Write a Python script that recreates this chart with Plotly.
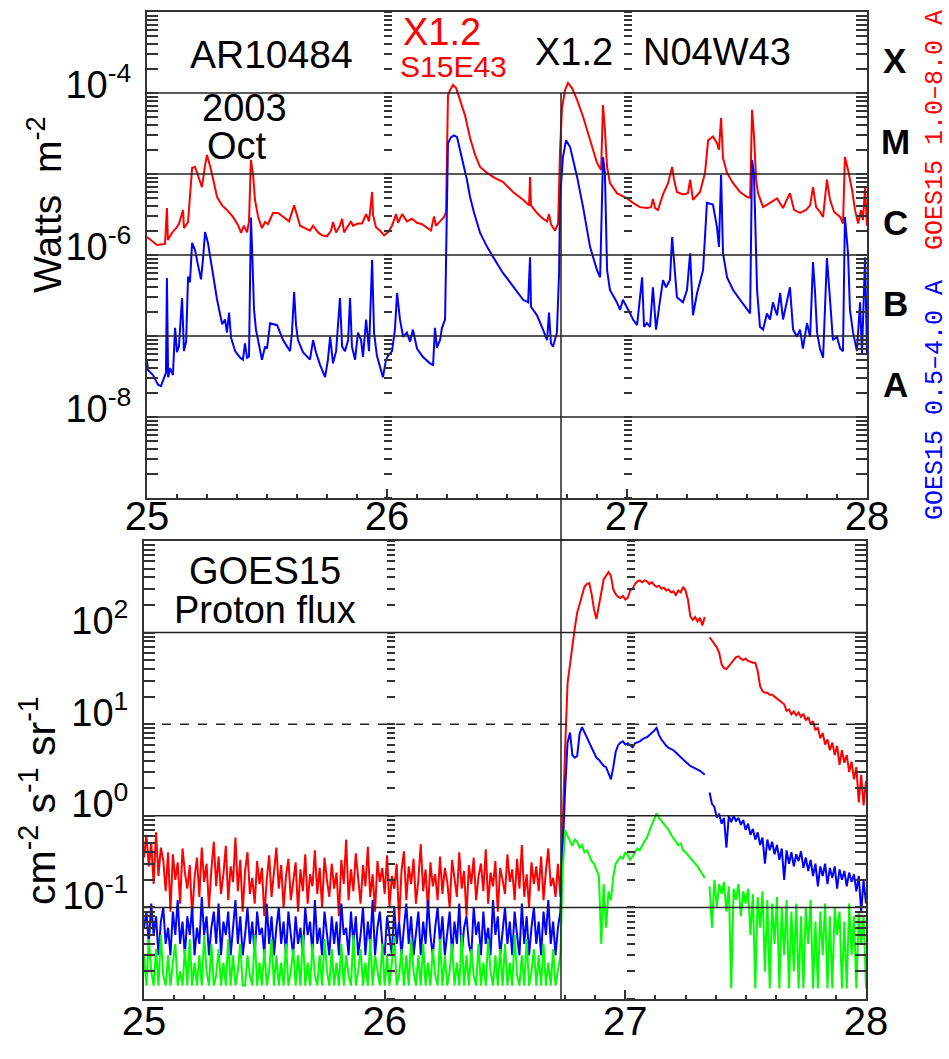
import numpy as np
import plotly.graph_objects as go

# ---------------- GOES X-ray flux (top panel) ----------------
# time in days of October 2003, flux in W m^-2
XR_T = [25.000, 25.042, 25.075, 25.083, 25.087, 25.104, 25.121, 25.133, 25.150, 25.154,
        25.171, 25.179, 25.188, 25.200, 25.212, 25.229, 25.242, 25.250, 25.267, 25.292,
        25.313, 25.333, 25.358, 25.379, 25.392, 25.404, 25.417, 25.425, 25.433, 25.442,
        25.450, 25.463, 25.479, 25.492, 25.504, 25.525, 25.546, 25.567, 25.592, 25.613,
        25.625, 25.638, 25.658, 25.679, 25.692, 25.713, 25.729, 25.750, 25.767, 25.775,
        25.788, 25.804, 25.813, 25.821, 25.838, 25.850, 25.858, 25.879, 25.896, 25.913,
        25.925, 25.938, 25.942, 25.954, 25.971, 25.988, 26.004, 26.021, 26.038, 26.046,
        26.063, 26.083, 26.104, 26.125, 26.146, 26.171, 26.183, 26.196, 26.204, 26.221,
        26.238, 26.246, 26.250, 26.254, 26.263, 26.275, 26.288, 26.304, 26.325, 26.346,
        26.367, 26.388, 26.417, 26.450, 26.483, 26.525, 26.554, 26.567, 26.592, 26.596,
        26.600, 26.625, 26.650, 26.667, 26.675, 26.683, 26.700, 26.713, 26.721, 26.729,
        26.742, 26.754, 26.771, 26.792, 26.817, 26.846, 26.875, 26.892, 26.900, 26.908,
        26.917, 26.929, 26.958, 26.983, 27.000, 27.025, 27.054, 27.083, 27.100, 27.108,
        27.117, 27.129, 27.150, 27.171, 27.188, 27.196, 27.208, 27.233, 27.254, 27.263,
        27.275, 27.304, 27.325, 27.338, 27.358, 27.375, 27.383, 27.392, 27.400, 27.417,
        27.442, 27.471, 27.500, 27.513, 27.521, 27.529, 27.538, 27.546, 27.567, 27.596,
        27.625, 27.650, 27.679, 27.696, 27.721, 27.746, 27.763, 27.775, 27.788, 27.804,
        27.817, 27.833, 27.846, 27.863, 27.888, 27.900, 27.908, 27.921, 27.938, 27.950,
        27.963, 27.975, 27.983, 27.992, 28.000]
XR_V = [1.67e-6, 1.33e-6, 1.37e-6, 3.8e-6, 1.53e-6, 1.87e-6, 2.15e-6, 2.41e-6, 3.6e-6, 2.15e-6,
        2.55e-6, 4.8e-6, 1.19e-5, 1.22e-5, 9.7e-6, 6.9e-6, 1.29e-5, 1.72e-5, 1.12e-5, 5.2e-6,
        4.1e-6, 3.6e-6, 2.95e-6, 2.35e-6, 1.87e-6, 2.3e-6, 1.9e-6, 2.6e-6, 1.49e-5, 9.7e-6,
        4.8e-6, 2.95e-6, 2.15e-6, 2.55e-6, 2.4e-6, 3.3e-6, 3.3e-6, 2.95e-6, 2.6e-6, 4.1e-6,
        3.1e-6, 2.3e-6, 2.15e-6, 2.0e-6, 2.3e-6, 1.9e-6, 1.75e-6, 1.7e-6, 2.0e-6, 2.55e-6,
        1.9e-6, 2.3e-6, 2.8e-6, 1.9e-6, 2.3e-6, 2.6e-6, 2.3e-6, 2.45e-6, 2.45e-6, 3.2e-6,
        2.6e-6, 6.0e-6, 3.1e-6, 2.2e-6, 2.0e-6, 1.75e-6, 1.9e-6, 2.3e-6, 3.2e-6, 2.5e-6,
        3.2e-6, 2.6e-6, 2.8e-6, 2.5e-6, 2.4e-6, 2.15e-6, 2.0e-6, 3.0e-6, 2.3e-6, 2.6e-6,
        2.95e-6, 3.4e-6, 3.8e-5, 9.4e-5, 1.09e-4, 1.26e-4, 1.15e-4, 8.2e-5, 5.3e-5, 2.8e-5,
        1.72e-5, 1.22e-5, 1.03e-5, 8.9e-6, 8.0e-6, 6.0e-6, 5.2e-6, 4.8e-6, 4.1e-6, 9.2e-6,
        4.1e-6, 3.3e-6, 2.8e-6, 2.6e-6, 3.2e-6, 2.4e-6, 2.0e-6, 2.45e-6, 1.98e-5, 6.5e-5,
        1.09e-4, 1.33e-4, 1.15e-4, 8.2e-5, 5.1e-5, 2.6e-5, 1.37e-5, 1.12e-5, 7.1e-5, 3.5e-5,
        1.22e-5, 7.7e-6, 5.8e-6, 5.3e-6, 5.0e-6, 4.4e-6, 3.9e-6, 3.8e-6, 3.9e-6, 4.9e-6,
        3.8e-6, 3.6e-6, 5.6e-6, 7.7e-6, 1.22e-5, 8.5e-6, 6.0e-6, 5.6e-6, 5.8e-6, 8.5e-6,
        4.8e-6, 6.0e-6, 1.03e-5, 2.6e-5, 2.9e-5, 2.4e-5, 2.0e-5, 4.9e-5, 1.57e-5, 1.03e-5,
        7.7e-6, 6.0e-6, 5.2e-6, 5.1e-6, 6.2e-5, 3.0e-5, 8.5e-6, 5.8e-6, 3.9e-6, 4.4e-6,
        5.0e-6, 3.8e-6, 5.8e-6, 3.6e-6, 3.3e-6, 3.6e-6, 4.1e-6, 6.9e-6, 3.9e-6, 3.4e-6,
        2.95e-6, 8.5e-6, 4.8e-6, 3.4e-6, 2.95e-6, 2.45e-6, 1.62e-5, 1.12e-5, 6.3e-6, 3.6e-6,
        2.45e-6, 3.6e-6, 2.7e-6, 6.7e-6, 2.3e-6]

XB_T = [25.000, 25.004, 25.025, 25.046, 25.058, 25.071, 25.079, 25.083, 25.088, 25.096,
        25.108, 25.117, 25.125, 25.133, 25.146, 25.154, 25.163, 25.171, 25.179, 25.188,
        25.200, 25.213, 25.225, 25.233, 25.242, 25.254, 25.271, 25.292, 25.313, 25.325,
        25.333, 25.342, 25.350, 25.367, 25.388, 25.400, 25.408, 25.417, 25.425, 25.433,
        25.438, 25.446, 25.454, 25.467, 25.479, 25.492, 25.500, 25.513, 25.542, 25.567,
        25.583, 25.596, 25.604, 25.613, 25.621, 25.629, 25.650, 25.671, 25.679, 25.692,
        25.704, 25.721, 25.742, 25.754, 25.763, 25.775, 25.788, 25.804, 25.813, 25.825,
        25.838, 25.846, 25.854, 25.867, 25.879, 25.892, 25.900, 25.913, 25.925, 25.938,
        25.946, 25.958, 25.971, 25.983, 25.996, 26.004, 26.021, 26.033, 26.042, 26.054,
        26.067, 26.083, 26.096, 26.108, 26.125, 26.150, 26.179, 26.192, 26.200, 26.208,
        26.221, 26.229, 26.242, 26.246, 26.250, 26.254, 26.267, 26.279, 26.292, 26.304,
        26.317, 26.333, 26.346, 26.363, 26.388, 26.417, 26.458, 26.483, 26.513, 26.542,
        26.567, 26.588, 26.596, 26.600, 26.625, 26.650, 26.667, 26.675, 26.683, 26.692,
        26.708, 26.717, 26.721, 26.733, 26.746, 26.763, 26.792, 26.817, 26.846, 26.875,
        26.888, 26.900, 26.908, 26.917, 26.929, 26.958, 26.971, 26.983, 27.000, 27.013,
        27.025, 27.042, 27.063, 27.071, 27.083, 27.096, 27.108, 27.121, 27.138, 27.150,
        27.163, 27.179, 27.188, 27.200, 27.208, 27.233, 27.250, 27.263, 27.275, 27.292,
        27.304, 27.317, 27.333, 27.358, 27.375, 27.383, 27.392, 27.400, 27.417, 27.442,
        27.471, 27.500, 27.513, 27.521, 27.529, 27.542, 27.554, 27.567, 27.583, 27.596,
        27.608, 27.625, 27.638, 27.650, 27.667, 27.679, 27.692, 27.708, 27.721, 27.733,
        27.750, 27.763, 27.775, 27.783, 27.792, 27.804, 27.817, 27.833, 27.846, 27.858,
        27.875, 27.888, 27.900, 27.908, 27.921, 27.929, 27.942, 27.958, 27.971, 27.979,
        27.992, 28.000]
XB_V = [5.1e-8, 3.8e-8, 3.3e-8, 2.5e-8, 2.4e-8, 3.0e-8, 3.5e-8, 5.2e-7, 3.1e-8, 4.0e-8,
        3.3e-8, 1.26e-7, 6.3e-8, 7.4e-8, 2.95e-7, 6.5e-8, 8.5e-8, 5.4e-7, 4.6e-7, 1.41e-6,
        1.15e-6, 7.4e-7, 5.0e-7, 8.7e-7, 1.92e-6, 1.41e-6, 6.5e-7, 2.8e-7, 1.4e-7, 1.6e-7,
        1.1e-7, 1.95e-7, 9.6e-8, 6.5e-8, 5.4e-8, 5.1e-8, 8.1e-8, 5.4e-8, 5.6e-8, 2.9e-6,
        1.15e-6, 2.1e-7, 1.2e-7, 7.4e-8, 5.1e-8, 7.4e-8, 7.0e-8, 1.44e-7, 1.36e-7, 8.9e-8,
        7.4e-8, 6.5e-8, 1.1e-7, 3.5e-7, 1.36e-7, 8.9e-8, 6.3e-8, 5.4e-8, 5.1e-8, 8.9e-8,
        6.3e-8, 4.4e-8, 3.1e-8, 5.1e-8, 9.8e-8, 4.6e-8, 6.5e-8, 2.95e-7, 7.4e-8, 6.5e-8,
        8.9e-8, 2.95e-7, 7.4e-8, 5.1e-8, 1.1e-7, 8.9e-8, 5.5e-8, 1.6e-7, 6.5e-8, 8.7e-7,
        1.1e-7, 5.7e-8, 4.2e-8, 3.1e-8, 5.1e-8, 5.7e-8, 6.5e-8, 1.2e-7, 3.4e-7, 1.6e-7,
        9.8e-8, 1.1e-7, 8.5e-8, 1.2e-7, 7.0e-8, 5.5e-8, 4.6e-8, 4.4e-8, 1.26e-7, 7.2e-8,
        8.9e-8, 1.26e-7, 1.6e-7, 6.5e-7, 5.8e-6, 2.4e-5, 2.85e-5, 3.0e-5, 2.85e-5, 2.0e-5,
        1.37e-5, 8.5e-6, 5.2e-6, 3.3e-6, 1.87e-6, 1.26e-6, 7.9e-7, 6.0e-7, 4.6e-7, 3.5e-7,
        2.8e-7, 2.6e-7, 9.4e-7, 2.3e-7, 1.8e-7, 1.2e-7, 8.9e-8, 1.95e-7, 8.1e-8, 7.4e-8,
        1.1e-7, 6.0e-7, 4.8e-6, 1.62e-5, 2.6e-5, 2.15e-5, 9.2e-6, 3.9e-6, 1.26e-6, 6.5e-7,
        5.3e-7, 1.62e-5, 1.03e-5, 6.5e-7, 3.7e-7, 2.6e-7, 2.1e-7, 2.8e-7, 2.3e-7, 1.9e-7,
        1.6e-7, 1.36e-7, 5.3e-7, 1.3e-7, 1.44e-7, 1.3e-7, 4.0e-7, 1.2e-7, 2.8e-7, 4.9e-7,
        4.0e-7, 4.9e-7, 1.67e-6, 5.3e-7, 3.0e-7, 2.6e-7, 3.7e-7, 1.05e-6, 1.8e-7, 3.4e-7,
        4.6e-7, 6.5e-7, 4.4e-6, 4.2e-6, 2.2e-6, 1.26e-6, 9.7e-6, 1.05e-6, 5.3e-7, 3.7e-7,
        2.8e-7, 2.1e-7, 1.9e-7, 1.49e-5, 1.03e-5, 3.7e-7, 1.3e-7, 1.2e-7, 1.9e-7, 1.6e-7,
        2.6e-7, 1.8e-7, 3.4e-7, 1.6e-7, 2.8e-7, 4.0e-7, 1.2e-7, 9.8e-8, 1.2e-7, 7.0e-8,
        1.44e-7, 9.8e-8, 8.2e-7, 3.7e-7, 1.1e-7, 7.0e-8, 5.4e-8, 9.2e-7, 2.8e-7, 8.9e-8,
        9.8e-8, 7.0e-8, 6.5e-8, 2.95e-6, 1.05e-6, 2.1e-7, 1.1e-7, 6.5e-8, 2.6e-7, 6.0e-8,
        9.4e-7, 6.0e-8]

# ---------------- GOES proton flux (bottom panel) ----------------
# sampled every 0.01 day from 25.00 to 28.00 (301 samples), cm^-2 s^-1 sr^-1
P_T = np.round(25.0 + 0.01 * np.arange(301), 2)

P_RED = [
    0.35, 0.62, 0.28, 0.51, 0.18, 0.66, 0.22, 0.45, 0.33, 0.15,
    0.40, 0.09, 0.38, 0.20, 0.31, 0.11, 0.44, 0.24, 0.16, 0.29,
    0.08, 0.21, 0.35, 0.13, 0.45, 0.19, 0.30, 0.10, 0.26, 0.52,
    0.17, 0.36, 0.14, 0.23, 0.47, 0.12, 0.28, 0.19, 0.58, 0.15,
    0.33, 0.09, 0.25, 0.40, 0.14, 0.21, 0.11, 0.32, 0.18, 0.27,
    0.08, 0.20, 0.37, 0.13, 0.24, 0.45, 0.16, 0.29, 0.10, 0.22,
    0.34, 0.12, 0.19, 0.31, 0.09, 0.26, 0.15, 0.38, 0.11, 0.23,
    0.17, 0.42, 0.14, 0.27, 0.10, 0.35, 0.20, 0.13, 0.30, 0.16,
    0.24, 0.08, 0.33, 0.18, 0.55, 0.12, 0.26, 0.15, 0.39, 0.21,
    0.11, 0.29, 0.17, 0.46, 0.13, 0.23, 0.09, 0.32, 0.19, 0.27,
    0.14, 0.37, 0.10, 0.22, 0.16, 0.30, 0.07, 0.25, 0.41, 0.12,
    0.28, 0.18, 0.34, 0.11, 0.20, 0.49, 0.15, 0.26, 0.09, 0.31,
    0.17, 0.23, 0.12, 0.36, 0.14, 0.27, 0.19, 0.10, 0.33, 0.21,
    0.13, 0.40, 0.16, 0.25, 0.08, 0.29, 0.18, 0.35, 0.12, 0.22,
    0.30, 0.15, 0.43, 0.11, 0.24, 0.17, 0.32, 0.09, 0.27, 0.20,
    0.14, 0.38, 0.19, 0.26, 0.12, 0.34, 0.16, 0.48, 0.13, 0.23,
    0.10, 0.31, 0.18, 0.28, 0.15, 0.36, 0.12, 0.25, 0.44, 0.17,
    0.21, 0.13, 0.30,
    0.13, 1.0, 5.6, 28, 47, 71, 112, 166, 204, 251,
    316, 339, 347, 263, 178, 141, 200, 282, 380, 417,
    457, 417, 295, 263, 245, 240, 251, 229, 240, 288,
    302, 339, 363, 372, 355, 372, 363, 339, 355, 331,
    316, 324, 302, 309, 288, 295, 275, 282, 257, 288,
    275, 316, 288, 229, 151, 138, 148, 132, 145, 120,
    148, None, 89, 81, 76, 69, 60, 45, 41, 40,
    43, 47, 50, 54, 55, 52, 50, 52, 49, 48,
    47, 47, 38, 26, 23, 22, 22, 21, 21, 20,
    19, 18, 17, 16.5, 14.0, 14.5, 12.8, 13.8, 12.5, 13.4,
    12.0, 13.0, 11.0, 12.0, 10.0, 10.8, 8.6, 9.2, 7.0, 8.0,
    6.0, 6.8, 5.2, 6.3, 4.6, 5.8, 3.6, 5.2, 3.8, 4.6,
    3.0, 3.9, 2.5, 3.4, 1.4, 2.8, 1.3, 2.4]

P_BLUE = [
    0.06, 0.09, 0.04, 0.11, 0.05, 0.08, 0.03, 0.07, 0.10, 0.04,
    0.06, 0.03, 0.09, 0.05, 0.12, 0.04, 0.07, 0.03, 0.08, 0.05,
    0.10, 0.03, 0.06, 0.04, 0.13, 0.05, 0.08, 0.03, 0.06, 0.09,
    0.04, 0.11, 0.03, 0.07, 0.05, 0.09, 0.03, 0.06, 0.12, 0.04,
    0.08, 0.03, 0.05, 0.10, 0.04, 0.07, 0.03, 0.09, 0.05, 0.06,
    0.03, 0.11, 0.04, 0.08, 0.03, 0.06, 0.10, 0.04, 0.07, 0.03,
    0.09, 0.05, 0.03, 0.08, 0.04, 0.06, 0.03, 0.10, 0.05, 0.07,
    0.03, 0.12, 0.04, 0.06, 0.03, 0.09, 0.05, 0.03, 0.08, 0.04,
    0.07, 0.03, 0.11, 0.05, 0.06, 0.03, 0.09, 0.04, 0.08, 0.03,
    0.05, 0.10, 0.03, 0.07, 0.04, 0.12, 0.03, 0.06, 0.09, 0.04,
    0.03, 0.08, 0.05, 0.03, 0.10, 0.04, 0.07, 0.03, 0.06, 0.11,
    0.04, 0.08, 0.03, 0.05, 0.09, 0.03, 0.07, 0.04, 0.12, 0.05,
    0.03, 0.06, 0.10, 0.04, 0.08, 0.03, 0.05, 0.09, 0.03, 0.07,
    0.04, 0.11, 0.03, 0.06, 0.08, 0.04, 0.03, 0.10, 0.05, 0.07,
    0.03, 0.09, 0.04, 0.06, 0.03, 0.12, 0.05, 0.08, 0.03, 0.06,
    0.10, 0.04, 0.07, 0.03, 0.09, 0.05, 0.03, 0.11, 0.04, 0.08,
    0.03, 0.06, 0.10, 0.04, 0.07, 0.03, 0.09, 0.05, 0.12, 0.04,
    0.07, 0.03, 0.06,
    0.09, 0.5, 2.0, 6.3, 8.1, 4.6, 4.3, 4.5, 7.9, 9.3,
    8.3, 7.2, 6.3, 5.6, 4.9, 4.3, 4.1, 3.8, 3.5, 3.4,
    2.95, 2.5, 3.4, 5.0, 5.9, 6.3, 6.5, 6.0, 6.2, 5.9,
    5.6, 6.2, 6.3, 6.5, 6.8, 7.1, 7.2, 7.6, 7.9, 8.5,
    9.1, 7.6, 6.8, 6.2, 5.8, 5.5, 5.4, 5.2, 4.9, 4.6,
    4.4, 4.1, 3.9, 3.7, 3.5, 3.4, 3.3, 3.2, 3.1, 2.95,
    2.8, None, 1.8, 1.35, 1.25, 0.95, 1.05, 0.82, 0.95, 0.45,
    1.0, 0.85, 1.0, 0.88, 0.95, 0.80, 0.90, 0.70, 0.82, 0.62,
    0.72, 0.55, 0.66, 0.48, 0.58, 0.30, 0.55, 0.42, 0.52, 0.38,
    0.48, 0.33, 0.44, 0.20, 0.42, 0.30, 0.40, 0.28, 0.38, 0.32,
    0.41, 0.27, 0.35, 0.25, 0.33, 0.22, 0.30, 0.17, 0.28, 0.22,
    0.30, 0.18, 0.27, 0.21, 0.28, 0.16, 0.26, 0.20, 0.25, 0.17,
    0.24, 0.19, 0.23, 0.15, 0.22, 0.09, 0.20, 0.11]

P_GREEN = [
    0.03, 0.014, 0.045, 0.02, 0.014, 0.035, 0.014, 0.05, 0.018, 0.014,
    0.03, 0.014, 0.025, 0.04, 0.014, 0.02, 0.014, 0.035, 0.014, 0.045,
    0.014, 0.025, 0.014, 0.03, 0.014, 0.05, 0.02, 0.014, 0.04, 0.014,
    0.018, 0.035, 0.014, 0.025, 0.014, 0.045, 0.014, 0.03, 0.014, 0.02,
    0.04, 0.014, 0.014, 0.03, 0.018, 0.014, 0.05, 0.014, 0.025, 0.014,
    0.035, 0.014, 0.02, 0.045, 0.014, 0.03, 0.014, 0.025, 0.014, 0.04,
    0.014, 0.02, 0.035, 0.014, 0.03, 0.014, 0.05, 0.014, 0.025, 0.014,
    0.04, 0.018, 0.014, 0.03, 0.014, 0.045, 0.02, 0.014, 0.035, 0.014,
    0.025, 0.014, 0.04, 0.014, 0.03, 0.018, 0.014, 0.05, 0.014, 0.02,
    0.035, 0.014, 0.025, 0.014, 0.045, 0.014, 0.03, 0.02, 0.014, 0.04,
    0.014, 0.03, 0.014, 0.025, 0.05, 0.014, 0.018, 0.035, 0.014, 0.03,
    0.014, 0.045, 0.02, 0.014, 0.03, 0.014, 0.04, 0.014, 0.025, 0.014,
    0.035, 0.018, 0.014, 0.045, 0.014, 0.03, 0.014, 0.02, 0.04, 0.014,
    0.025, 0.014, 0.05, 0.014, 0.03, 0.014, 0.035, 0.018, 0.014, 0.04,
    0.014, 0.025, 0.014, 0.045, 0.02, 0.014, 0.03, 0.014, 0.035, 0.014,
    0.04, 0.014, 0.025, 0.014, 0.05, 0.018, 0.014, 0.03, 0.014, 0.045,
    0.014, 0.02, 0.035, 0.014, 0.03, 0.014, 0.04, 0.014, 0.025, 0.014,
    0.035, 0.014, 0.02,
    0.03, 0.26, 0.70, 0.60, 0.52, 0.47, 0.55, 0.52, 0.45, 0.48,
    0.40, 0.42, 0.37, 0.32, 0.30, 0.25, 0.22, 0.04, 0.18, 0.06,
    0.15, 0.12, 0.22, 0.30, 0.33, 0.36, 0.34, 0.40, 0.37, 0.33,
    0.36, 0.40, 0.44, 0.42, 0.48, 0.53, 0.58, 0.70, 0.80, 0.92,
    1.07, 0.95, 0.88, 0.82, 0.76, 0.70, 0.62, 0.57, 0.52, 0.48,
    0.50, 0.42, 0.40, 0.37, 0.35, 0.32, 0.30, 0.28, 0.25, 0.23,
    0.21, None, 0.17, 0.06, 0.20, 0.10, 0.18, 0.14, 0.19, 0.09,
    0.17, 0.013, 0.16, 0.12, 0.18, 0.08, 0.15, 0.11, 0.16, 0.05,
    0.14, 0.013, 0.13, 0.06, 0.15, 0.02, 0.12, 0.013, 0.11, 0.04,
    0.13, 0.013, 0.10, 0.03, 0.12, 0.013, 0.09, 0.02, 0.11, 0.013,
    0.08, 0.013, 0.10, 0.04, 0.12, 0.013, 0.07, 0.013, 0.09, 0.03,
    0.11, 0.013, 0.08, 0.013, 0.10, 0.05, 0.09, 0.013, 0.07, 0.013,
    0.11, 0.03, 0.08, 0.013, 0.09, 0.04, 0.08, 0.013]

# reference levels / labels
GOES_LEVELS = [1e-4, 1e-5, 1e-6, 1e-7, 1e-8]
CLASS_LABELS = ["X", "M", "C", "B", "A"]
PROTON_LEVELS = [100, 10, 1, 0.1]
PROTON_DASH = ["solid", "dash", "solid", "solid"]
EVENT_DAY = 26.725

# ---------------- layout geometry ----------------
W, H = 949, 1059
TOP_X = [147 / W, 867 / W]
TOP_Y = [(H - 498) / H, (H - 12) / H]
BOT_X = [144 / W, 866 / W]
BOT_Y = [(H - 999) / H, (H - 541) / H]
FONT = "Liberation Sans, Arial, sans-serif"
FRAME = "#333333"

fig = go.Figure()
fig.add_trace(go.Scatter(x=XR_T, y=XR_V, mode="lines", line=dict(color="#ff0000", width=2),
                         xaxis="x", yaxis="y", hoverinfo="skip"))
fig.add_trace(go.Scatter(x=XB_T, y=XB_V, mode="lines", line=dict(color="#0000ff", width=2),
                         xaxis="x", yaxis="y", hoverinfo="skip"))
for lvl in GOES_LEVELS:
    fig.add_trace(go.Scatter(x=[25, 28], y=[lvl, lvl], mode="lines",
                             line=dict(color="#222222", width=1.5), xaxis="x", yaxis="y", hoverinfo="skip"))

for vals, col in [(P_RED, "#ff0000"), (P_BLUE, "#0000ff"), (P_GREEN, "#00ff00")]:
    fig.add_trace(go.Scatter(x=P_T, y=vals, mode="lines", line=dict(color=col, width=2),
                             xaxis="x2", yaxis="y2", hoverinfo="skip"))
for lvl, dash in zip(PROTON_LEVELS, PROTON_DASH):
    fig.add_trace(go.Scatter(x=[25, 28], y=[lvl, lvl], mode="lines",
                             line=dict(color="#222222", width=1.5, dash=dash), xaxis="x2", yaxis="y2",
                             hoverinfo="skip"))

# invisible helpers so the tick-column axes get drawn
for ya, yv in [("y3", 1e-6), ("y4", 1e-6)]:
    fig.add_trace(go.Scatter(x=[25.5], y=[yv], mode="markers", marker=dict(opacity=0),
                             xaxis="x", yaxis=ya, hoverinfo="skip"))
for ya, yv in [("y5", 1.0), ("y6", 1.0)]:
    fig.add_trace(go.Scatter(x=[25.5], y=[yv], mode="markers", marker=dict(opacity=0),
                             xaxis="x2", yaxis=ya, hoverinfo="skip"))

top_lab = [1e-8, 1e-6, 1e-4]
top_text = ["10<sup>-8</sup>", "10<sup>-6</sup>", "10<sup>-4</sup>"]
top_all = [m * 10.0 ** e for e in range(-9, -3) for m in range(1, 10)] + [1e-3]
top_minor = [v for v in top_all if v not in top_lab]
bot_lab = [0.1, 1.0, 10.0, 100.0]
bot_text = ["10<sup>-1</sup>", "10<sup>0</sup>", "10<sup>1</sup>", "10<sup>2</sup>"]
bot_all = [m * 10.0 ** e for e in range(-2, 3) for m in range(1, 10)] + [1000.0]
bot_minor = [v for v in bot_all if v not in bot_lab]


def xaxis(domain, anchor, standoff):
    return dict(domain=domain, anchor=anchor, range=[25, 28], tickmode="linear", tick0=25, dtick=1,
                ticks="inside", ticklen=9, tickwidth=1.5, tickcolor=FRAME,
                showline=True, linecolor=FRAME, linewidth=2, mirror=True,
                showgrid=False, zeroline=False, ticklabelstandoff=standoff,
                tickfont=dict(family=FONT, size=40, color="black"),
                minor=dict(tick0=25, dtick=0.125, ticks="inside", ticklen=4, tickwidth=1.5,
                           tickcolor=FRAME, showgrid=False))


def yaxis(domain, anchor, rng, lab, text, minor, shift):
    return dict(domain=domain, anchor=anchor, type="log", range=rng,
                tickmode="array", tickvals=lab, ticktext=text,
                ticks="inside", ticklen=11, tickwidth=1.5, tickcolor=FRAME,
                showline=True, linecolor=FRAME, linewidth=2, mirror="ticks",
                showgrid=False, zeroline=False, ticklabelstandoff=6, ticklabelshift=shift,
                tickfont=dict(family=FONT, size=38, color="black"),
                minor=dict(tickmode="array", tickvals=minor, ticks="inside", ticklen=11,
                           tickwidth=1.5, tickcolor=FRAME, showgrid=False))


def colaxis(base, rng, allv, pos):
    return dict(overlaying=base, anchor="free", position=pos, side="right", type="log", range=rng,
                tickmode="array", tickvals=allv, showticklabels=False, ticks="outside", ticklen=8,
                tickwidth=1.5, tickcolor=FRAME, showline=False, showgrid=False, zeroline=False)


tw = TOP_X[1] - TOP_X[0]
bw = BOT_X[1] - BOT_X[0]

fig.update_layout(
    template="none", width=W, height=H, margin=dict(l=0, r=0, t=0, b=0),
    paper_bgcolor="white", plot_bgcolor="white", showlegend=False,
    font=dict(family=FONT, color="black"),
    xaxis=xaxis(TOP_X, "y", -18),
    yaxis=yaxis(TOP_Y, "x", [-9, -3], top_lab, top_text, top_minor, -8),
    xaxis2=xaxis(BOT_X, "y2", -14),
    yaxis2=yaxis(BOT_Y, "x2", [-2, 3], bot_lab, bot_text, bot_minor, -12),
    yaxis3=colaxis("y", [-9, -3], top_all, TOP_X[0] + tw / 3 - 4 / W),
    yaxis4=colaxis("y", [-9, -3], top_all, TOP_X[0] + 2 * tw / 3 - 4 / W),
    yaxis5=colaxis("y2", [-2, 3], bot_all, BOT_X[0] + bw / 3 + 1 / W),
    yaxis6=colaxis("y2", [-2, 3], bot_all, BOT_X[0] + 2 * bw / 3 + 1 / W),
)

# event line through both panels
fig.add_shape(type="line", xref="x", yref="paper", x0=EVENT_DAY, x1=EVENT_DAY,
              y0=BOT_Y[0], y1=TOP_Y[0] + (TOP_Y[1] - TOP_Y[0]) * 5 / 6,
              line=dict(color="#222222", width=1.5))


def ann(text, x, y, size, color="black", xref="x", yref="y", family=FONT, **kw):
    fig.add_annotation(text=text, x=x, y=y, xref=xref, yref=yref, showarrow=False,
                       xanchor="center", yanchor="middle",
                       font=dict(family=family, size=size, color=color), **kw)


# top panel labels (y in log10 units)
ann("AR10484", 25.52, -3.52, 39)
ann("2003", 25.408, -4.19, 38)
ann("Oct", 25.375, -4.66, 38)
ann("X1.2", 26.229, -3.247, 38, "#ff0000")
ann("S15E43", 26.279, -3.679, 30, "#ff0000")
ann("X1.2", 26.779, -3.494, 38)
ann("N04W43", 27.375, -3.494, 38)
for i, lab in enumerate(CLASS_LABELS):
    ann("<b>" + lab + "</b>", 895 / W, -3.5 - i, 35, xref="paper", yshift=-8)

# bottom panel labels
ann("GOES15", 25.503, 2.67, 38, xref="x2", yref="y2")
ann("Proton flux", 25.503, 2.25, 38, xref="x2", yref="y2")

# axis titles
ann("Watts\u00a0\u00a0m<sup>-2</sup>", 44 / W, (H - 205) / H, 39, xref="paper", yref="paper", textangle=-90)
ann("cm<sup>-2</sup> s<sup>-1</sup> sr<sup>-1</sup>", 38 / W, (H - 801) / H, 41,
    xref="paper", yref="paper", textangle=-90)

ann("<span style='color:#0000ff'>GOES15 0.5\u20134.0 A</span>\u00a0\u00a0"
    "<span style='color:#ff0000'>GOES15 1.0\u20138.0 A</span>",
    935 / W, (H - 265) / H, 25, xref="paper", yref="paper", textangle=-90,
    family="Liberation Mono, DejaVu Sans Mono, monospace")

fig.write_html("out.html")
